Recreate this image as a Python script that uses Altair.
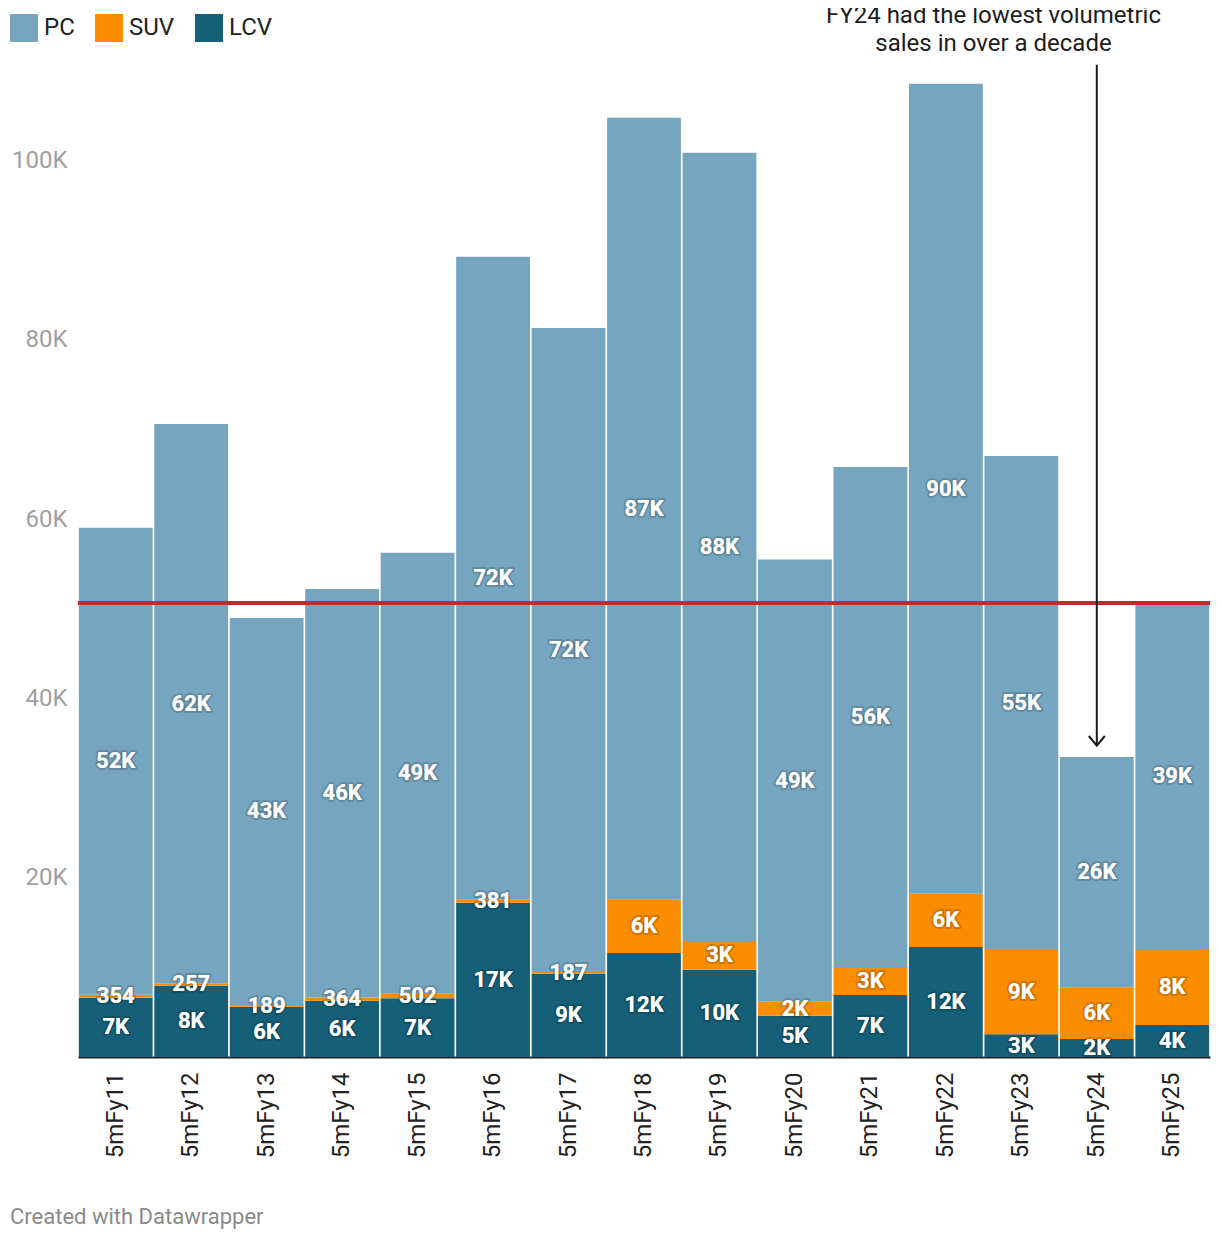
import altair as alt
import pandas as pd

# ---- data ----
years = ["5mFy11", "5mFy12", "5mFy13", "5mFy14", "5mFy15", "5mFy16", "5mFy17", "5mFy18",
         "5mFy19", "5mFy20", "5mFy21", "5mFy22", "5mFy23", "5mFy24", "5mFy25"]
lcv = [6600, 7960, 5610, 6280, 6550, 17220, 9290, 11600, 9740, 4610, 6920, 12270, 2550, 2010, 3570]
suv = [354, 257, 189, 364, 502, 381, 187, 5950, 3200, 1560, 3120, 5950, 9380, 5720, 8480]
pc = [52080, 62410, 43180, 45580, 49190, 71670, 71860, 87230, 87930, 49320, 55790, 90350, 55120, 25740, 38600]
categories = ["PC", "SUV", "LCV"]
colors = ["#76a5bf", "#fa8c00", "#165f78"]
ref_value = 50650
yticks = [20000, 40000, 60000, 80000, 100000]
note_lines = ["FY24 had the lowest volumetric", "sales in over a decade"]
note_year = "5mFy24"
arrow_top, arrow_tip = 110690, 34740
footer = "Created with Datawrapper"

# ---- build stacked table (LCV bottom, SUV, PC top) ----
rows = []
for i, fy in enumerate(years):
    base = 0
    for cat, vals in (("LCV", lcv), ("SUV", suv), ("PC", pc)):
        v = vals[i]
        rows.append({"fy": fy, "cat": cat, "value": v, "y0": base, "y1": base + v,
                     "mid": base + v / 2})
        base += v
df = pd.DataFrame(rows)

FONT = "Roboto"
W, H = 1132, 986

xscale = alt.Scale(domain=years, paddingInner=0.022, paddingOuter=0.011)
yscale = alt.Scale(domain=[0, 110000], nice=False, zero=True)

x_enc = alt.X("fy:N", scale=xscale, sort=years, title=None,
              axis=alt.Axis(labelAngle=-90, labelFontSize=24, labelFont=FONT,
                            labelColor="#222222", ticks=False, labelPadding=15,
                            domainColor="#222222", domainWidth=2))

bars = alt.Chart(df).mark_bar().encode(
    x=x_enc,
    y=alt.Y("y1:Q", scale=yscale, title=None,
            axis=alt.Axis(values=yticks, labelExpr="format(datum.value/1000,'d') + 'K'",
                          labelFontSize=24, labelFont=FONT, labelColor="#a0a0a0",
                          ticks=False, domain=False, grid=False, labelPadding=11)),
    y2="y0:Q",
    color=alt.Color("cat:N", scale=alt.Scale(domain=categories, range=colors),
                    legend=alt.Legend(orient="none", legendX=-68, legendY=-57,
                                      direction="horizontal", title=None,
                                      symbolType="square", symbolSize=784,
                                      symbolStrokeWidth=0, symbolOpacity=1,
                                      labelFontSize=24, labelFont=FONT,
                                      labelColor="#222222", labelOffset=6,
                                      columnPadding=20, padding=0)),
)

label_expr = "datum.value < 1000 ? format(datum.value,'d') : format(datum.value/1000,'.0f') + 'K'"

labels_base = alt.Chart(df).transform_calculate(label=label_expr)

shadow = labels_base.mark_text(font=FONT, fontSize=22, fontWeight="bold",
                               baseline="middle", align="center",
                               stroke="#000000", strokeWidth=4, strokeOpacity=0.18,
                               strokeJoin="round", fill="#ffffff").encode(
    x=alt.X("fy:N", scale=xscale, sort=years),
    y=alt.Y("mid:Q", scale=yscale),
    text="label:N",
)
labels = labels_base.mark_text(font=FONT, fontSize=22, fontWeight="bold",
                               baseline="middle", align="center",
                               color="#ffffff").encode(
    x=alt.X("fy:N", scale=xscale, sort=years),
    y=alt.Y("mid:Q", scale=yscale),
    text="label:N",
)

red = alt.Chart(pd.DataFrame({"v": [ref_value]})).mark_rule(
    color="#c8282a", strokeWidth=4).encode(y=alt.Y("v:Q", scale=yscale))

arrow_df = pd.DataFrame({"fy": [note_year], "top": [arrow_top], "tip": [arrow_tip]})
arrow_line = alt.Chart(arrow_df).mark_rule(color="#1a1a1a", strokeWidth=2).encode(
    x=alt.X("fy:N", scale=xscale, sort=years),
    y=alt.Y("top:Q", scale=yscale),
    y2="tip:Q",
)
arrow_head = alt.Chart(arrow_df).mark_point(
    shape="M-1,-1.2L0,0L1,-1.2", filled=False, stroke="#1a1a1a", strokeWidth=2,
    size=256, opacity=1).encode(
    x=alt.X("fy:N", scale=xscale, sort=years),
    y=alt.Y("tip:Q", scale=yscale),
)

note_df = pd.DataFrame({"t": note_lines, "py": [-48, -20]})
note = alt.Chart(note_df).mark_text(font=FONT, fontSize=24, color="#1d1d1d",
                                    align="center", baseline="alphabetic").encode(
    x=alt.value(915.5), y=alt.Y("py:Q", scale=None), text="t:N")

foot = alt.Chart(pd.DataFrame({"t": [footer]})).mark_text(
    font=FONT, fontSize=22, color="#8a8a8a", align="left", baseline="alphabetic").encode(
    x=alt.value(-68), y=alt.value(1153), text="t:N")

chart = alt.layer(bars, red, shadow, labels, arrow_line, arrow_head, note, foot).properties(
    width=W, height=H,
    padding={"left": 70, "top": 63, "right": 2, "bottom": 177},
    autosize=alt.AutoSizeParams(type="none"),
).configure(font=FONT).configure_view(stroke=None, strokeWidth=0)

chart.save("out.html", embed_options={"renderer": "svg", "actions": False})
